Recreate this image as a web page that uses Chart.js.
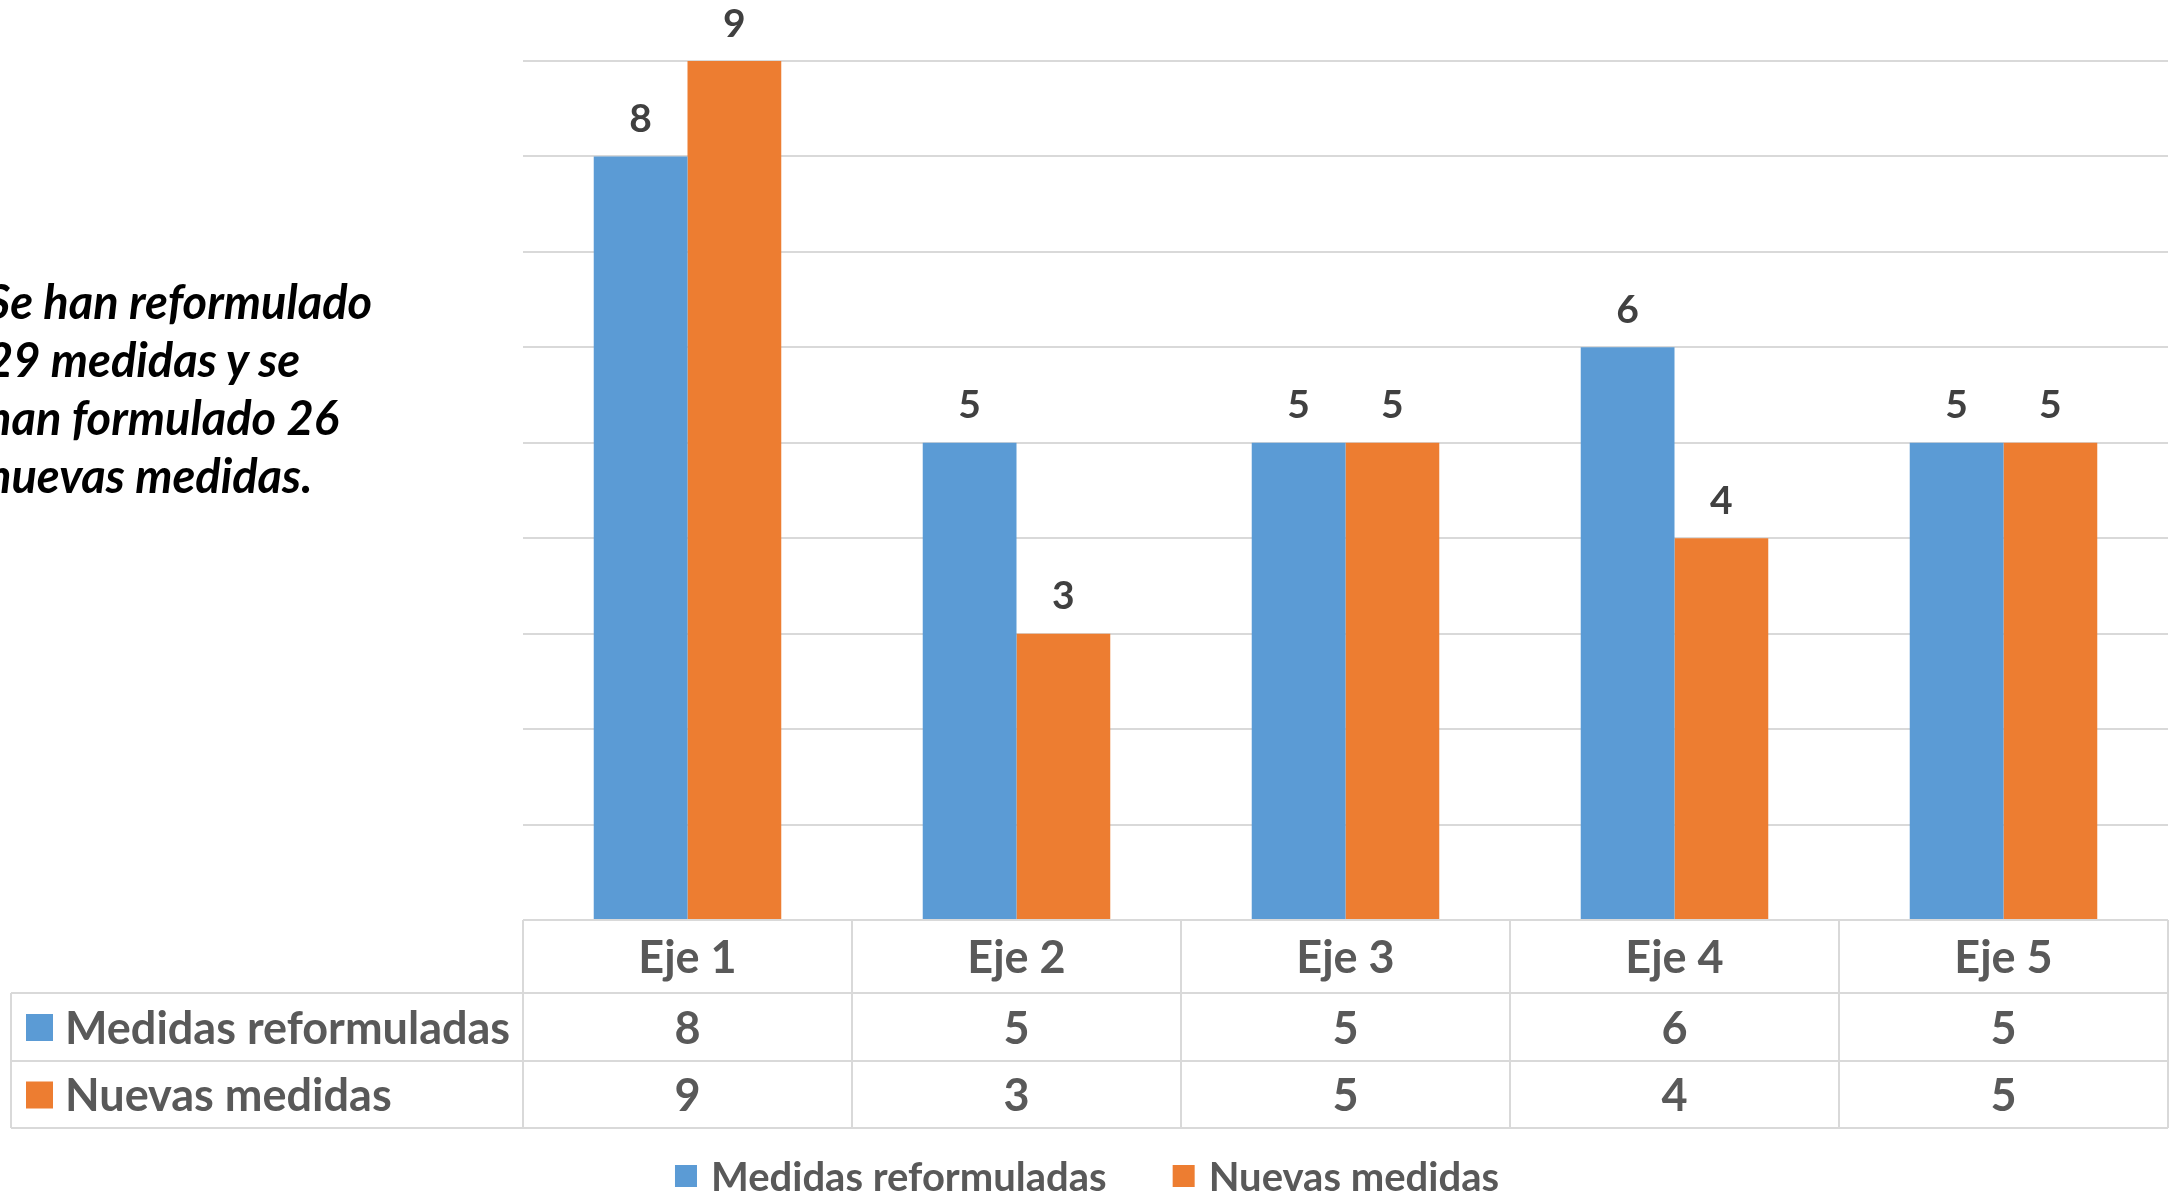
<!DOCTYPE html>
<html>
<head>
<meta charset="utf-8">
<script src="https://cdn.jsdelivr.net/npm/chart.js@4"></script>
<style>
  html, body { margin: 0; padding: 0; background: #fff; overflow: hidden; }
  #wrap { position: relative; width: 2174px; height: 1191px; }
  #note {
    position: absolute; left: -14px; top: 272px;
    font: italic bold 47px Lato, sans-serif; line-height: 58px; color: #000;
  }
</style>
</head>
<body>
<div id="wrap">
  <canvas id="chBar"></canvas>
  <div id="note">Se han reformulado<br>29 medidas y se<br>han formulado 26<br>nuevas medidas.</div>
</div>
<script>
var categories = ['Eje 1', 'Eje 2', 'Eje 3', 'Eje 4', 'Eje 5'];
var reformuladas = [8, 5, 5, 6, 5];
var nuevas = [9, 3, 5, 4, 5];
var seriesNames = ['Medidas reformuladas', 'Nuevas medidas'];
var colors = ['#5B9BD5', '#ED7D31'];

var gridColor = '#d9d9d9';
var textColor = '#595959';

// labels above bars, data table under the plot, legend at the bottom
var tablePlugin = {
  id: 'tablePlugin',
  afterDatasetsDraw: function(chart) {
    var ctx = chart.ctx;
    ctx.save();
    ctx.fillStyle = '#404040';
    ctx.font = 'bold 39px Lato, sans-serif';
    ctx.textAlign = 'center';
    ctx.textBaseline = 'middle';
    chart.data.datasets.forEach(function(ds, di) {
      chart.getDatasetMeta(di).data.forEach(function(bar, i) {
        ctx.fillText(String(ds.data[i]), bar.x, bar.y - 37);
      });
    });
    ctx.restore();
  },
  afterDraw: function(chart) {
    var ctx = chart.ctx;
    var area = chart.chartArea;
    var n = categories.length;
    var colW = (area.right - area.left) / n;
    var rows = [area.bottom, area.bottom + 73, area.bottom + 141, area.bottom + 208];
    var leftEdge = 11;

    ctx.save();
    ctx.strokeStyle = gridColor;
    ctx.lineWidth = 2;
    ctx.beginPath();
    // horizontal lines
    ctx.moveTo(area.left, rows[0]); ctx.lineTo(area.right, rows[0]);
    for (var r = 1; r < rows.length; r++) {
      ctx.moveTo(leftEdge, rows[r]); ctx.lineTo(area.right, rows[r]);
    }
    // vertical lines
    for (var c = 0; c <= n; c++) {
      var x = area.left + c * colW;
      ctx.moveTo(x, rows[0]); ctx.lineTo(x, rows[3]);
    }
    ctx.moveTo(leftEdge, rows[1]); ctx.lineTo(leftEdge, rows[3]);
    ctx.stroke();

    ctx.font = 'bold 45px Lato, sans-serif';
    ctx.fillStyle = textColor;
    ctx.textAlign = 'center';
    ctx.textBaseline = 'middle';
    var xs = chart.scales.x;
    categories.forEach(function(cat, i) {
      var cx = xs.getPixelForValue(i);
      ctx.fillText(cat, cx, (rows[0] + rows[1]) / 2 + 2);
      ctx.fillText(String(reformuladas[i]), cx, (rows[1] + rows[2]) / 2 + 2);
      ctx.fillText(String(nuevas[i]), cx, (rows[2] + rows[3]) / 2 + 2);
    });

    // series names in the table
    ctx.textAlign = 'left';
    seriesNames.forEach(function(name, s) {
      var cy = (rows[s + 1] + rows[s + 2]) / 2;
      ctx.fillStyle = colors[s];
      ctx.fillRect(26, cy - 13, 27, 27);
      ctx.fillStyle = textColor;
      ctx.fillText(name, 65, cy + 2);
    });

    // legend
    ctx.font = 'bold 40px Lato, sans-serif';
    var box = 22, gapBox = 14, gapItem = 66;
    var widths = seriesNames.map(function(t) { return ctx.measureText(t).width; });
    var total = box + gapBox + widths[0] + gapItem + box + gapBox + widths[1];
    var lx = chart.width / 2 - total / 2;
    var ly = 1176;
    seriesNames.forEach(function(name, s) {
      ctx.fillStyle = colors[s];
      ctx.fillRect(lx, ly - 11, box, box);
      ctx.fillStyle = textColor;
      ctx.fillText(name, lx + box + gapBox, ly + 2);
      lx += box + gapBox + widths[s] + gapItem;
    });
    ctx.restore();
  }
};

var chBar = document.getElementById('chBar');
if (chBar) {
  new Chart(chBar, {
    type: 'bar',
    data: {
      labels: categories,
      datasets: [
        { label: seriesNames[0], data: reformuladas, backgroundColor: colors[0], borderWidth: 0 },
        { label: seriesNames[1], data: nuevas, backgroundColor: colors[1], borderWidth: 0 }
      ]
    },
    options: {
      responsive: true,
      maintainAspectRatio: false,
      animation: false,
      devicePixelRatio: 1,
      layout: { padding: { left: 523, right: 6, top: 61, bottom: 271 } },
      datasets: { bar: { categoryPercentage: 0.57, barPercentage: 1.0 } },
      plugins: { legend: { display: false }, tooltip: { enabled: false } },
      scales: {
        x: { display: false },
        y: {
          min: 0, max: 9,
          ticks: { display: false, stepSize: 1 },
          border: { display: false },
          grid: { color: gridColor, lineWidth: 2, drawTicks: false },
          afterFit: function(s) { s.width = 0; }
        }
      }
    },
    plugins: [tablePlugin]
  });
}
</script>
</body>
</html>
